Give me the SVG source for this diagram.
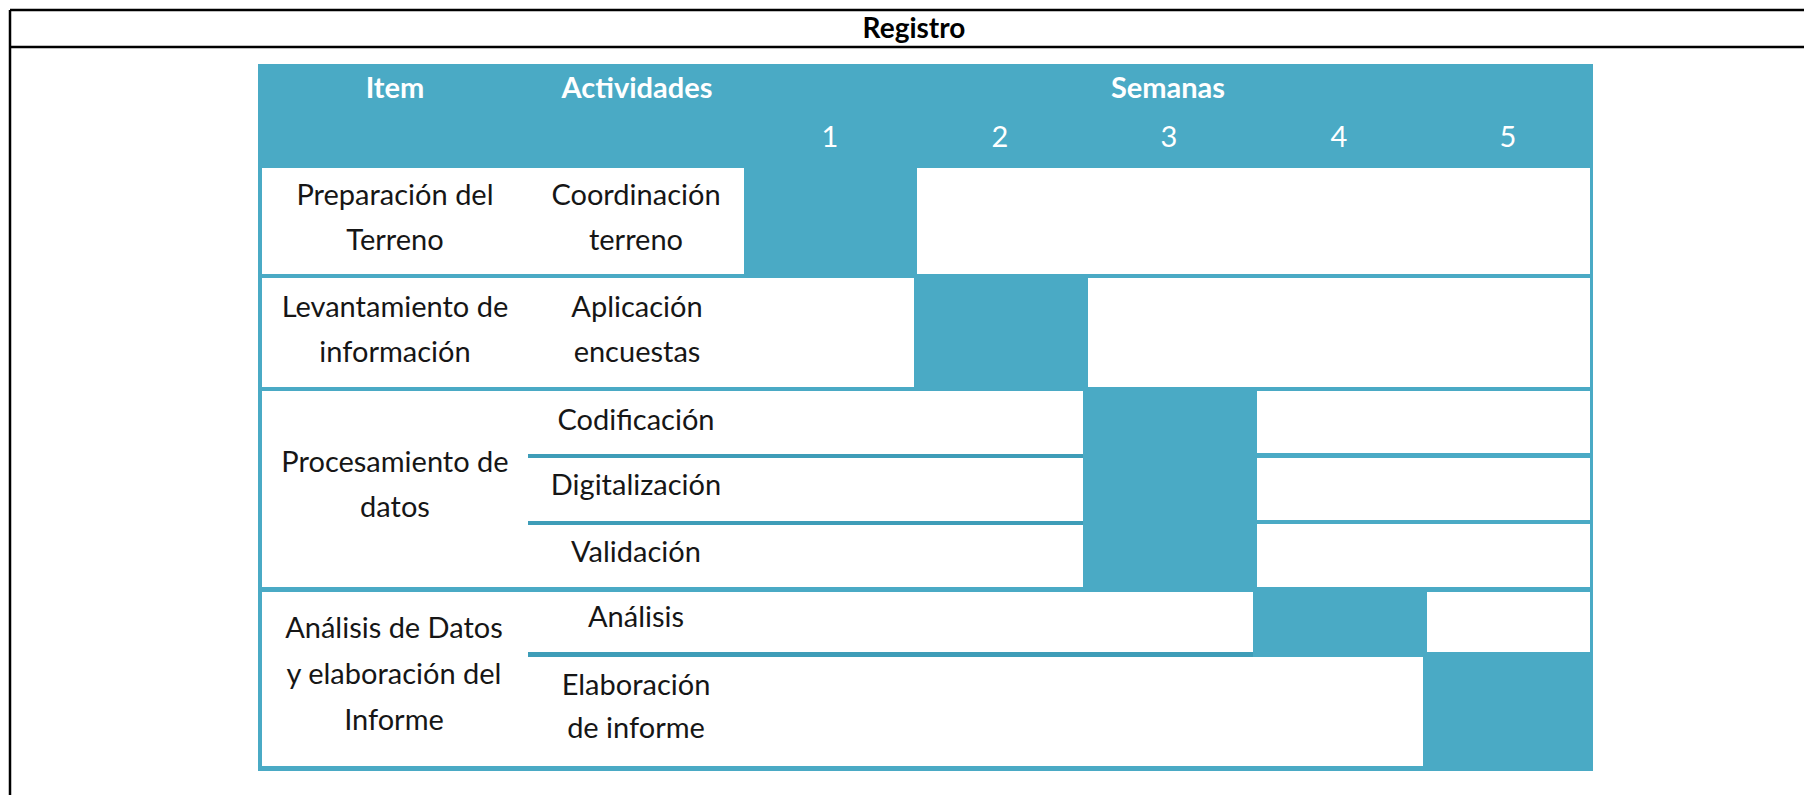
<svg xmlns="http://www.w3.org/2000/svg" width="1804" height="795" viewBox="0 0 1804 795">
<style>
.frame{stroke:#000;stroke-width:2.5;fill:none}
.teal{fill:#4AAAC5}
.sep{fill:#3E9DB8}
.cell{fill:#fff}
.t{font-family:Lato,"Open Sans","Liberation Sans",sans-serif;font-size:29px;fill:#161616;text-anchor:middle}
.h{font-family:Lato,"Open Sans","Liberation Sans",sans-serif;font-size:29px;font-weight:bold;fill:#fff;text-anchor:middle}
.n{font-family:Lato,"Open Sans","Liberation Sans",sans-serif;font-size:29px;fill:#fff;text-anchor:middle}
.title{font-family:Lato,"Open Sans","Liberation Sans",sans-serif;font-size:28px;font-weight:bold;fill:#000;text-anchor:middle}
</style>
<rect width="1804" height="795" fill="#fff"/>
<g id="frame">
<line class="frame" x1="10" y1="10" x2="1804" y2="10"/>
<line class="frame" x1="10" y1="47" x2="1804" y2="47"/>
<line class="frame" x1="10" y1="10" x2="10" y2="795"/>
<text class="title" x="914" y="38">Registro</text>
</g>
<g id="table-bg">
<rect class="teal" x="258" y="64" width="1335" height="707"/>
</g>
<g id="header">
<text class="h" x="395" y="98">Item</text>
<text class="h" x="637" y="98">Actividades</text>
<text class="h" x="1168" y="98">Semanas</text>
<text class="n" x="830" y="147">1</text>
<text class="n" x="1000" y="147">2</text>
<text class="n" x="1169" y="147">3</text>
<text class="n" x="1339" y="147">4</text>
<text class="n" x="1508" y="147">5</text>
</g>
<g id="row1">
<rect class="cell" x="262" y="168" width="482" height="106"/>
<rect class="cell" x="917" y="168" width="673" height="106"/>
<text class="t" x="395" y="205">Preparación del</text>
<text class="t" x="395" y="250">Terreno</text>
<text class="t" x="636" y="205">Coordinación</text>
<text class="t" x="636" y="250">terreno</text>
</g>
<g id="row2">
<rect class="cell" x="262" y="278" width="652" height="109"/>
<rect class="cell" x="1088" y="278" width="502" height="109"/>
<text class="t" x="395" y="317">Levantamiento de</text>
<text class="t" x="395" y="362">información</text>
<text class="t" x="637" y="317">Aplicación</text>
<text class="t" x="637" y="362">encuestas</text>
</g>
<g id="row3">
<rect class="cell" x="262" y="391" width="821" height="196"/>
<rect class="sep" x="528" y="454" width="555" height="4"/>
<rect class="sep" x="528" y="521" width="555" height="4"/>
<rect class="cell" x="1257" y="391" width="333" height="62"/>
<rect class="cell" x="1257" y="458" width="333" height="62"/>
<rect class="cell" x="1257" y="524" width="333" height="63"/>
<text class="t" x="395" y="472">Procesamiento de</text>
<text class="t" x="395" y="517">datos</text>
<text class="t" x="636" y="430">Codificación</text>
<text class="t" x="636" y="495">Digitalización</text>
<text class="t" x="636" y="562">Validación</text>
</g>
<g id="row4">
<rect class="cell" x="262" y="592" width="991" height="174"/>
<rect class="sep" x="528" y="652" width="725" height="5"/>
<rect class="cell" x="1253" y="657" width="170" height="109"/>
<rect class="cell" x="1427" y="592" width="163" height="60"/>
<text class="t" x="394" y="638">Análisis de Datos</text>
<text class="t" x="394" y="684">y elaboración del</text>
<text class="t" x="394" y="730">Informe</text>
<text class="t" x="636" y="627">Análisis</text>
<text class="t" x="636" y="695">Elaboración</text>
<text class="t" x="636" y="738">de informe</text>
</g>
<g id="connectors"></g>
</svg>
